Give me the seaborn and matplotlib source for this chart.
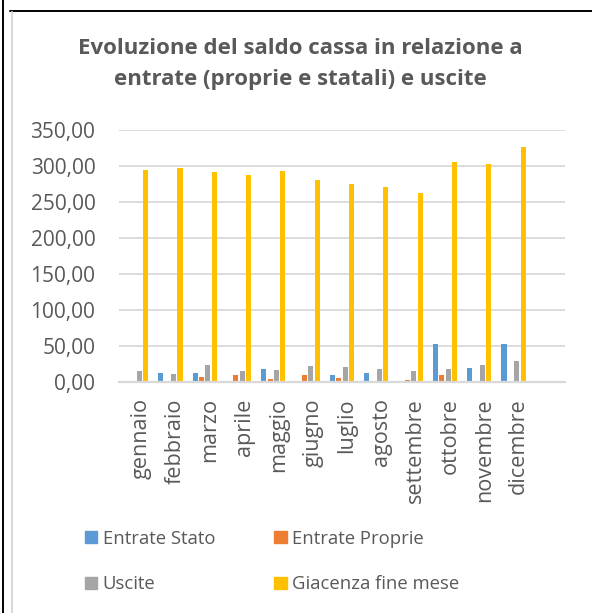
import matplotlib
matplotlib.use("Agg")
import pandas as pd
import matplotlib.pyplot as plt
import matplotlib.transforms as mtransforms
import seaborn as sns
from matplotlib.lines import Line2D
from matplotlib.patches import Patch
from matplotlib.ticker import FuncFormatter

# dati
mesi = ["gennaio", "febbraio", "marzo", "aprile", "maggio", "giugno",
        "luglio", "agosto", "settembre", "ottobre", "novembre", "dicembre"]
entrate_stato = [0, 12, 12, 0, 17.5, 0, 10, 12, 0, 52.5, 19, 52.5]
entrate_proprie = [0, 0, 6.5, 10, 3.5, 10, 5, 0, 3, 10, 0, 0]
uscite = [15, 11, 23, 15, 16, 22, 20.5, 17, 15, 17.5, 23, 29]
giacenza = [295, 297, 291, 287.5, 292.5, 281, 275, 271, 262, 306, 303, 327]

serie = ["Entrate Stato", "Entrate Proprie", "Uscite", "Giacenza fine mese"]
colori = ["#5B9BD5", "#ED7D31", "#A5A5A5", "#FFC000"]

df = pd.DataFrame({
    "mese": mesi,
    "Entrate Stato": entrate_stato,
    "Entrate Proprie": entrate_proprie,
    "Uscite": uscite,
    "Giacenza fine mese": giacenza,
}).melt(id_vars="mese", var_name="serie", value_name="valore")

sns.set_theme(style="white")
plt.rcParams["font.family"] = ["Open Sans", "DejaVu Sans"]
grigio_testo = "#595959"

W, H = 592, 613
fig = plt.figure(figsize=(W / 100, H / 100), dpi=100)
ax = fig.add_axes([119 / W, 1 - 381.7 / H, (565 - 119) / W, (381.7 - 130) / H])

sns.barplot(data=df, x="mese", y="valore", hue="serie", order=mesi,
            hue_order=serie, palette=colori, saturation=1, width=0.74,
            gap=0.2, linewidth=0, ax=ax)
if ax.get_legend() is not None:
    ax.get_legend().remove()

ax.set_xlim(-0.5, 12.5)  # Excel lascia uno spazio vuoto a destra
ax.set_ylim(0, 350)
ax.set_yticks(range(0, 351, 50))
ax.yaxis.set_major_formatter(FuncFormatter(lambda v, p: f"{v:.2f}".replace(".", ",")))
ax.grid(axis="y", color="#D9D9D9", lw=1.3)
ax.grid(axis="x", visible=False)
ax.set_axisbelow(True)
for s in ["top", "right", "left"]:
    ax.spines[s].set_visible(False)
ax.spines["bottom"].set_color("#D9D9D9")
ax.spines["bottom"].set_linewidth(1.6)
ax.tick_params(axis="both", length=0, colors=grigio_testo)
ax.tick_params(axis="y", pad=17, labelsize=15)
ax.tick_params(axis="x", pad=12, labelrotation=90, labelsize=15.6)
ax.set_xlabel("")
ax.set_ylabel("")
sposta = mtransforms.ScaledTranslation(5 / 100, 0, fig.dpi_scale_trans)
for lab in ax.get_xticklabels():
    lab.set_transform(lab.get_transform() + sposta)

fig.text(0.508, 1 - 64 / H,
         "Evoluzione del saldo cassa in relazione a\nentrate (proprie e statali) e uscite",
         ha="center", va="center", fontsize=16, fontweight="bold",
         color=grigio_testo, linespacing=1.68)

# legenda su due righe
handles = [Patch(color=c, label=s) for s, c in zip(serie, colori)]
handles = [handles[0], handles[2], handles[1], handles[3]]
fig.legend(handles=handles, ncol=2, loc="upper left",
           bbox_to_anchor=(68 / W, 1 - 513 / H), frameon=False,
           fontsize=13.3, labelcolor=grigio_testo, handlelength=0.68,
           handleheight=0.68, handletextpad=0.3, columnspacing=3.2,
           labelspacing=1.5)

# bordi della cella / del grafico
fig.add_artist(Line2D([3.3 / W, 3.3 / W], [0, 1], transform=fig.transFigure,
                      color="black", lw=1.4))
fig.add_artist(Line2D([10 / W, 1], [1 - 10.8 / H, 1 - 10.8 / H],
                      transform=fig.transFigure, color="black", lw=1.4))
fig.add_artist(Line2D([12.2 / W, 12.2 / W], [0, 1 - 12 / H],
                      transform=fig.transFigure, color="#D9D9D9", lw=1.5))

fig.savefig("out.png", dpi=100)
